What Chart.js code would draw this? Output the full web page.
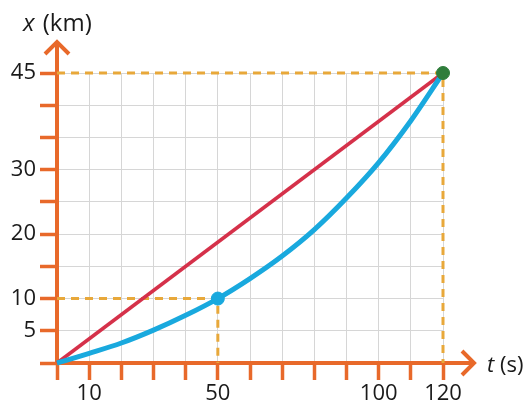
<!DOCTYPE html>
<html>
<head>
<meta charset="utf-8">
<script src="https://cdn.jsdelivr.net/npm/chart.js@4/dist/chart.umd.min.js"></script>
<style>
html,body{margin:0;padding:0;background:#fff;}
#wrap{width:527px;height:408px;position:relative;}
</style>
</head>
<body>
<div id="wrap"><canvas id="c" width="527" height="408"></canvas></div>
<script>
// Data
const timeS = [0, 10, 20, 30, 40, 50, 60, 70, 80, 90, 100, 110, 120];
const curveKm = [0, 1.5, 3.1, 5.1, 7.4, 10, 13.1, 16.6, 20.7, 25.6, 31.1, 37.6, 45];
const straightT = [0, 120];
const straightKm = [0, 45];
const markT = [50, 120];
const markKm = [10, 45];
const xTickLabels = [10, 50, 100, 120];
const yTickLabels = [5, 10, 20, 30, 45];

const ORANGE = '#E8692A';
const DASH = '#E8A83A';
const FONT = '"Open Sans", "Noto Sans", sans-serif';

const pts = (xs, ys) => xs.map((x, i) => ({x, y: ys[i]}));

const axesPlugin = {
  id: 'axes',
  beforeDatasetsDraw(chart) {
    const ctx = chart.ctx;
    const xs = chart.scales.x, ys = chart.scales.y;
    const ox = xs.getPixelForValue(0), oy = ys.getPixelForValue(0);
    ctx.save();
    ctx.strokeStyle = ORANGE;
    ctx.lineWidth = 4;
    ctx.lineCap = 'butt';
    ctx.beginPath();
    ctx.moveTo(ox - 2, oy);
    ctx.lineTo(474, oy);
    ctx.stroke();
    ctx.beginPath();
    ctx.moveTo(ox, oy + 2);
    ctx.lineTo(ox, 42);
    ctx.stroke();
    ctx.lineJoin = 'miter';
    ctx.beginPath();
    ctx.moveTo(462, oy - 12);
    ctx.lineTo(474, oy);
    ctx.lineTo(462, oy + 12);
    ctx.stroke();
    ctx.beginPath();
    ctx.moveTo(ox - 12, 54);
    ctx.lineTo(ox, 42);
    ctx.lineTo(ox + 12, 54);
    ctx.stroke();
    ctx.restore();
  },
  afterDraw(chart) {
    const ctx = chart.ctx;
    ctx.save();
    ctx.fillStyle = '#1a1a1a';
    ctx.textBaseline = 'alphabetic';
    ctx.font = 'italic 24px ' + FONT;
    ctx.fillText('x', 23, 31);
    let w = ctx.measureText('x').width;
    ctx.font = '24px ' + FONT;
    ctx.fillText(' (km)', 25 + w, 31);
    ctx.font = 'italic 22px ' + FONT;
    ctx.fillText('t', 487, 372);
    w = ctx.measureText('t').width;
    ctx.font = '22px ' + FONT;
    ctx.fillText(' (s)', 487 + w, 372);
    ctx.restore();
  }
};

new Chart(document.getElementById('c'), {
  type: 'scatter',
  data: {
    datasets: [
      {
        data: [pts(markT, markKm)[0]],
        backgroundColor: '#19A9DE', borderColor: '#19A9DE',
        pointRadius: 6.5, showLine: false, order: 0
      },
      {
        data: [pts(markT, markKm)[1]],
        backgroundColor: '#2F7D3B', borderColor: '#2F7D3B',
        pointRadius: 6.5, showLine: false, order: 0
      },
      {
        data: pts(timeS, curveKm),
        showLine: true, borderColor: '#19A9DE', borderWidth: 5,
        pointRadius: 0, cubicInterpolationMode: 'monotone', order: 1
      },
      {
        data: pts(straightT, straightKm),
        showLine: true, borderColor: '#D5314A', borderWidth: 3.5,
        pointRadius: 0, order: 2
      },
      {
        data: [{x: 0, y: markKm[0]}, {x: markT[0], y: markKm[0]}, {x: markT[0], y: 0}],
        showLine: true, borderColor: DASH, borderWidth: 3, borderDash: [8, 6],
        pointRadius: 0, order: 3
      },
      {
        data: [{x: 0, y: markKm[1]}, {x: markT[1], y: markKm[1]}, {x: markT[1], y: 0}],
        showLine: true, borderColor: DASH, borderWidth: 3, borderDash: [8, 6],
        pointRadius: 0, order: 3
      }
    ]
  },
  options: {
    responsive: false,
    animation: false,
    clip: false,
    layout: {padding: {left: 0, top: 73, right: 84, bottom: 0}},
    plugins: {legend: {display: false}, tooltip: {enabled: false}},
    scales: {
      x: {
        type: 'linear', min: 0, max: 120,
        afterFit(s) { s.height = 45; },
        border: {display: false},
        grid: {color: '#d6d6d6', lineWidth: 1, tickColor: ORANGE, tickWidth: 3.5, tickLength: 17},
        ticks: {
          stepSize: 10, autoSkip: false, maxRotation: 0, padding: 1,
          color: '#1a1a1a', font: {family: FONT, size: 22},
          callback: v => xTickLabels.includes(v) ? String(v) : ''
        }
      },
      y: {
        type: 'linear', min: 0, max: 45,
        afterFit(s) { s.width = 57; },
        border: {display: false},
        grid: {color: '#d6d6d6', lineWidth: 1, tickColor: ORANGE, tickWidth: 3.5, tickLength: 17},
        ticks: {
          stepSize: 5, autoSkip: false, padding: 4,
          color: '#1a1a1a', font: {family: FONT, size: 22},
          callback: v => yTickLabels.includes(v) ? String(v) : ''
        }
      }
    }
  },
  plugins: [axesPlugin]
});
</script>
</body>
</html>
